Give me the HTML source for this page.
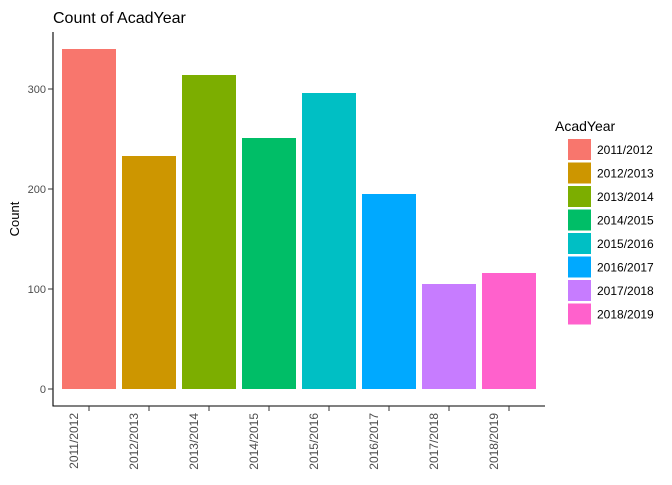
<!DOCTYPE html>
<html><head><meta charset="utf-8"><style>body{margin:0;background:#fff}svg{font-family:"Liberation Sans",Arial,sans-serif}</style></head>
<body>
<svg id="chart" width="672" height="480"></svg>
<script>
const categories=["2011/2012","2012/2013","2013/2014","2014/2015","2015/2016","2016/2017","2017/2018","2018/2019"];
const counts=[340,233,314,251,296,195,105,116];
const colors=["#F8766D","#CD9600","#7CAE00","#00BE67","#00BFC4","#00A9FF","#C77CFF","#FF61CC"];
const yTicks=[0,100,200,300];
const NS="http://www.w3.org/2000/svg";
const svg=document.getElementById("chart");
function mk(t,a,p){const e=document.createElementNS(NS,t);for(const k in a)e.setAttribute(k,a[k]);(p||svg).appendChild(e);return e;}
const y=v=>389-v*1.0;
const x=i=>89+i*60;
const bw=54;
const title=mk("text",{x:53,y:23,"font-size":16,fill:"#000"});title.textContent="Count of AcadYear";


counts.forEach((v,i)=>{
  const r=mk("rect",{x:x(i)-bw/2,y:y(v),width:bw,height:y(0)-y(v),fill:colors[i]});
  
  
});
const ax=mk("path",{d:"M53,32V406H545",stroke:"#000","stroke-width":1.1,fill:"none"});


yTicks.forEach(v=>{
  mk("line",{x1:48,x2:53,y1:y(v),y2:y(v),stroke:"#333"});
  const t=mk("text",{x:46,y:y(v)+4,"font-size":11,fill:"#4d4d4d","text-anchor":"end"});t.textContent=v;
  
  
});
categories.forEach((c,i)=>{
  mk("line",{x1:x(i),x2:x(i),y1:406,y2:411,stroke:"#333"});
  const t=mk("text",{transform:`translate(${x(i)-11},413) rotate(-90)`,"font-size":12,fill:"#4d4d4d","text-anchor":"end"});t.textContent=c;
  
  
});
const yt=mk("text",{transform:"translate(19,219) rotate(-90)","font-size":13,fill:"#000","text-anchor":"middle"});yt.textContent="Count";


const lt=mk("text",{x:555,y:131,"font-size":14,fill:"#000"});lt.textContent="AcadYear";


categories.forEach((c,i)=>{
  const g=mk("g",{});
  
  
  mk("rect",{x:568,y:139+i*23.5,width:23,height:21,fill:colors[i]},g);
  const t=mk("text",{x:597,y:154+i*23.5,"font-size":12,fill:"#000"},g);t.textContent=c;
});
</script>
</body></html>
